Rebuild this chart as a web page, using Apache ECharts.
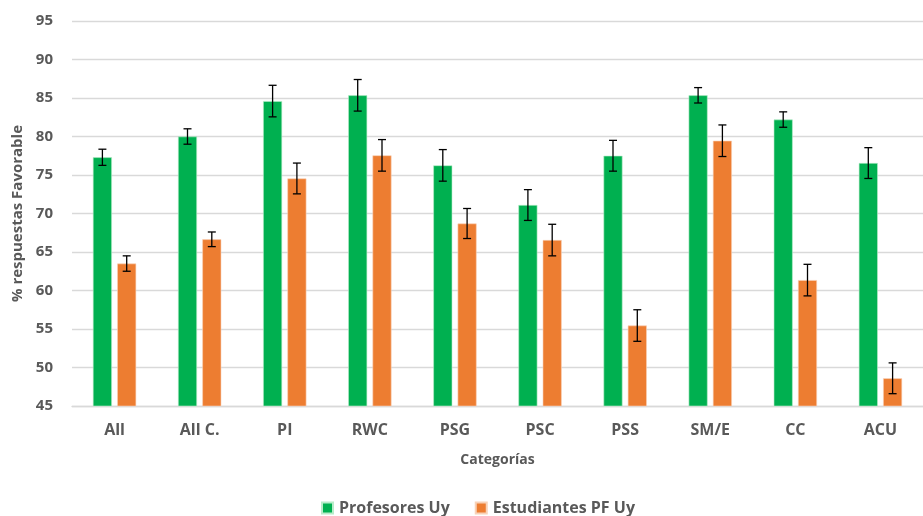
<!DOCTYPE html>
<html><head><meta charset="utf-8">
<script src="https://cdn.jsdelivr.net/npm/echarts@6/dist/echarts.min.js"></script>
<style>html,body{margin:0;padding:0;background:#fff}#c{width:923px;height:516px}</style>
</head><body><div id="c"></div>
<script>
const categories = ['All','All C.','PI','RWC','PSG','PSC','PSS','SM/E','CC','ACU'];
const profesores = [77.3, 80.0, 84.6, 85.35, 76.25, 71.1, 77.5, 85.35, 82.2, 76.55];
const profesoresErr = [1.05, 1.0, 2.05, 2.05, 2.05, 2.0, 2.0, 1.0, 1.0, 2.0];
const estudiantes = [63.5, 66.65, 74.55, 77.55, 68.7, 66.55, 55.45, 79.45, 61.35, 48.6];
const estudiantesErr = [1.0, 0.95, 2.0, 2.05, 1.95, 2.05, 2.05, 2.05, 2.05, 2.0];
const yTicks = {min: 45, max: 95, interval: 5};

const chart = echarts.init(document.getElementById('c'));
const font = '"Open Sans", "DejaVu Sans", sans-serif';
const gray = '#595959';
const BAR_W = 19, GAP = 5.3;

function errSeries(vals, errs, offsetSign) {
  return {
    type: 'custom',
    silent: true,
    z: 10,
    data: vals.map((v, i) => [i, v - errs[i], v + errs[i]]),
    renderItem: function (params, api) {
      const lo = api.coord([api.value(0), api.value(1)]);
      const hi = api.coord([api.value(0), api.value(2)]);
      const x = lo[0] + offsetSign * (BAR_W + GAP) / 2;
      const cap = 4;
      const st = {stroke: '#000', lineWidth: 1.3};
      return {type: 'group', children: [
        {type: 'line', shape: {x1: x, y1: lo[1], x2: x, y2: hi[1]}, style: st},
        {type: 'line', shape: {x1: x - cap, y1: lo[1], x2: x + cap, y2: lo[1]}, style: st},
        {type: 'line', shape: {x1: x - cap, y1: hi[1], x2: x + cap, y2: hi[1]}, style: st}
      ]};
    }
  };
}

chart.setOption({
  animation: false,
  textStyle: {fontFamily: font},
  grid: {left: 72, top: 21, width: 862, height: 385, containLabel: false},
  legend: {
    top: 495, left: 316, itemWidth: 11, itemHeight: 11, itemGap: 25,
    icon: 'rect',
    textStyle: {color: gray, fontSize: 16, fontWeight: 'bold', fontFamily: font, padding: [0, 0, 0, 1]},
    data: ['Profesores Uy', 'Estudiantes PF Uy']
  },
  xAxis: {
    type: 'category', data: categories,
    name: 'Categorías', nameLocation: 'middle', nameGap: 47,
    nameTextStyle: {color: gray, fontSize: 14, fontWeight: 'bold', fontFamily: font},
    axisLine: {lineStyle: {color: '#d9d9d9', width: 1.3}},
    axisTick: {show: false},
    axisLabel: {color: gray, fontSize: 16, fontWeight: 'bold', margin: 16, fontFamily: font}
  },
  yAxis: {
    type: 'value', min: yTicks.min, max: yTicks.max, interval: yTicks.interval,
    name: '% respuestas Favorable', nameLocation: 'middle', nameGap: 41,
    nameTextStyle: {color: gray, fontSize: 15, fontWeight: 'bold', fontFamily: font},
    axisLine: {show: false}, axisTick: {show: false},
    axisLabel: {color: gray, fontSize: 15, fontWeight: 'bold', margin: 19, fontFamily: font},
    splitLine: {lineStyle: {color: '#d9d9d9', width: 1.3}}
  },
  series: [
    {name: 'Profesores Uy', type: 'bar', data: profesores, barWidth: BAR_W, barGap: (GAP / BAR_W * 100) + '%',
     itemStyle: {color: '#00B050', borderColor: '#b8ecc9', borderWidth: 0.6}},
    {name: 'Estudiantes PF Uy', type: 'bar', data: estudiantes, barWidth: BAR_W,
     itemStyle: {color: '#ED7D31', borderColor: '#f8d2b8', borderWidth: 0.6}},
    errSeries(profesores, profesoresErr, -1),
    errSeries(estudiantes, estudiantesErr, 1)
  ]
});
</script>
</body></html>
